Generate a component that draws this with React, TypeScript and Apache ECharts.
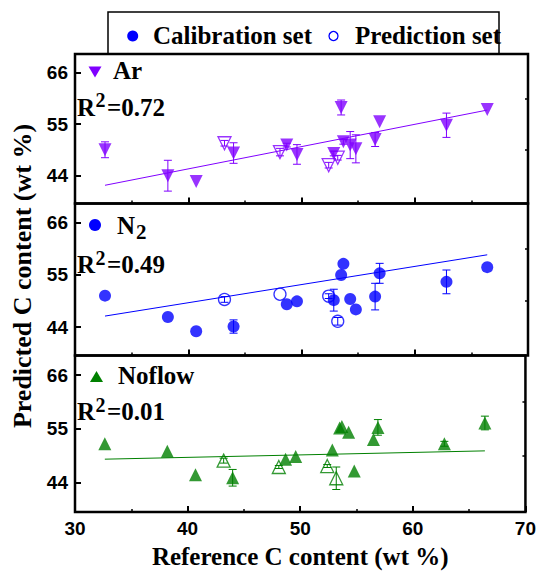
import React, { useEffect, useRef } from "react";
import * as echarts from "echarts";

// ---- data ----
const xCal = [32.65, 38.2, 40.7, 44.0, 48.7, 49.6, 52.85, 53.5, 53.7, 54.3, 54.8, 56.5, 56.9, 62.8, 66.4];
const xPred = [43.2, 48.1, 52.4, 53.2];

const arCal = [49.5, 43.95, 42.7, 48.8, 50.5, 48.5, 48.7, 58.55, 51.2, 50.5, 49.7, 51.7, 55.5, 54.75, 58.1];
const arCalErr = [1.7, 3.3, 0, 2.2, 0.4, 2.1, 0.5, 1.6, 0.5, 2.9, 3.0, 1.5, 0, 2.6, 0];
const arPred = [50.9, 49.0, 46.2, 47.8];
const arPredErr = [0.6, 0.8, 0.6, 0.5];

const n2Cal = [50.6, 46.1, 43.1, 44.1, 48.8, 49.4, 49.65, 54.95, 57.3, 49.9, 47.7, 50.4, 55.3, 53.5, 56.6];
const n2CalErr = [0, 0, 0, 1.4, 0, 0, 2.3, 0, 0, 0, 0, 2.8, 2.1, 2.5, 0];
const n2Pred = [49.8, 50.9, 50.5, 45.2];
const n2PredErr = [0.6, 0, 0.5, 0.8];

const nfCal = [51.95, 50.4, 45.6, 45.0, 48.8, 49.35, 50.7, 55.2, 55.5, 54.3, 46.4, 52.8, 55.3, 51.95, 56.2];
const nfCalErr = [0, 0, 0, 1.7, 0, 0, 0, 0, 0, 0, 0, 0, 1.6, 0.5, 1.4];
const nfPred = [48.5, 47.2, 47.4, 44.9];
const nfPredErr = [0.5, 0.3, 0.3, 2.3];

const fitX = [32.65, 66.4];
const arFit = [41.9, 58.0];
const n2Fit = [46.3, 59.2];
const nfFit = [48.8, 50.5];

const panelNames = ["Ar", "N", "Noflow"];
const r2Values = ["0.72", "0.49", "0.01"];
const yTickValues = [44, 55, 66];
const yMinorValues = [49.5, 60.5];
const xMin = 30, xMax = 70, xStep = 10;
const yMin = 38, yMax = 70;

const AR_C = "#8000ff";
const N2_C = "#0000ff";
const NF_C = "#008000";

const SERIF = "'Liberation Serif', 'Times New Roman', serif";
const SANS = "'Liberation Sans', Arial, sans-serif";

export default function App() {
  const ref = useRef<HTMLDivElement>(null);
  useEffect(() => {
    document.body.style.margin = "0";
    const chart = echarts.init(ref.current!, null, { renderer: "svg" });

    const grids = [
      { left: 75, right: 11, top: 54, height: 149.5 },
      { left: 75, right: 11, top: 203.5, height: 152 },
      { left: 75, right: 11, top: 355.5, height: 156.5 },
    ].map((g) => ({ ...g, show: true, borderColor: "#000", borderWidth: 2.5, backgroundColor: "transparent" }));

    const xAxes = [0, 1, 2].map((i) => ({
      type: "value",
      gridIndex: i,
      min: xMin,
      max: xMax,
      interval: xStep,
      axisLine: { show: false },
      axisTick: { show: true, inside: true, length: 6, lineStyle: { color: "#000", width: 2 } },
      minorTick: { show: true, splitNumber: 2, length: 3, lineStyle: { color: "#000", width: 1.5 } },
      splitLine: { show: false },
      axisLabel: {
        show: i === 2,
        color: "#000",
        fontFamily: SANS,
        fontWeight: "bold",
        fontSize: 19,
        margin: 7,
      },
      name: i === 2 ? "Reference C content (wt %)" : "",
      nameLocation: "middle",
      nameGap: 32,
      nameTextStyle: { color: "#000", fontFamily: SERIF, fontWeight: "bold", fontSize: 25 },
    }));

    const yAxes: any[] = [];
    [0, 1, 2].forEach((i) => {
      yAxes.push({
        type: "value",
        gridIndex: i,
        min: yMin,
        max: yMax,
        axisLine: { show: false },
        axisTick: { show: true, inside: true, length: 6, customValues: yTickValues, lineStyle: { color: "#000", width: 2 } },
        axisLabel: {
          show: true,
          customValues: yTickValues,
          color: "#000",
          fontFamily: SANS,
          fontWeight: "bold",
          fontSize: 19,
          margin: 7,
        },
        splitLine: { show: false },
      });
    });
    [0, 1, 2].forEach((i) => {
      yAxes.push({
        type: "value",
        gridIndex: i,
        min: yMin,
        max: yMax,
        axisLine: { show: false },
        axisTick: { show: true, inside: true, length: 3, customValues: yMinorValues, lineStyle: { color: "#000", width: 1.5 } },
        axisLabel: { show: false },
        splitLine: { show: false },
      });
    });

    const panels = [
      { color: AR_C, symbol: "triangle", rotate: 180, size: 13, cal: arCal, calErr: arCalErr, pred: arPred, predErr: arPredErr, fit: arFit },
      { color: N2_C, symbol: "circle", rotate: 0, size: 12, cal: n2Cal, calErr: n2CalErr, pred: n2Pred, predErr: n2PredErr, fit: n2Fit },
      { color: NF_C, symbol: "triangle", rotate: 0, size: 13, cal: nfCal, calErr: nfCalErr, pred: nfPred, predErr: nfPredErr, fit: nfFit },
    ];

    const errRender = (color: string) => (params: any, api: any) => {
      const x = api.value(0);
      const y = api.value(1);
      const e = api.value(2);
      if (!e) return { type: "group", children: [] };
      const top = api.coord([x, y + e]);
      const bot = api.coord([x, y - e]);
      const hw = 4;
      const st = { stroke: color, lineWidth: 1 };
      return {
        type: "group",
        children: [
          { type: "line", shape: { x1: top[0], y1: top[1], x2: bot[0], y2: bot[1] }, style: st },
          { type: "line", shape: { x1: top[0] - hw, y1: top[1], x2: top[0] + hw, y2: top[1] }, style: st },
          { type: "line", shape: { x1: bot[0] - hw, y1: bot[1], x2: bot[0] + hw, y2: bot[1] }, style: st },
        ],
      };
    };

    const series: any[] = [];
    panels.forEach((p, i) => {
      series.push({
        type: "line",
        xAxisIndex: i,
        yAxisIndex: i,
        data: fitX.map((x, k) => [x, p.fit[k]]),
        symbol: "none",
        lineStyle: { color: p.color, width: 1 },
        z: 1,
      });
      series.push({
        type: "custom",
        xAxisIndex: i,
        yAxisIndex: i,
        renderItem: errRender(p.color),
        data: xCal.map((x, k) => [x, p.cal[k], p.calErr[k]]),
        encode: { x: 0, y: 1 },
        z: 2,
      });
      series.push({
        type: "custom",
        xAxisIndex: i,
        yAxisIndex: i,
        renderItem: errRender(p.color),
        data: xPred.map((x, k) => [x, p.pred[k], p.predErr[k]]),
        encode: { x: 0, y: 1 },
        z: 2,
      });
      series.push({
        type: "scatter",
        xAxisIndex: i,
        yAxisIndex: i,
        symbol: p.symbol,
        symbolRotate: p.rotate,
        symbolSize: p.size,
        itemStyle: { color: p.color },
        data: xCal.map((x, k) => [x, p.cal[k]]),
        z: 3,
      });
      series.push({
        type: "scatter",
        xAxisIndex: i,
        yAxisIndex: i,
        symbol: p.symbol,
        symbolRotate: p.rotate,
        symbolSize: p.size,
        itemStyle: { color: "rgba(255,255,255,0)", borderColor: p.color, borderWidth: 1.3 },
        data: xPred.map((x, k) => [x, p.pred[k]]),
        z: 3,
      });
    });

    const txt = (text: string, x: number, y: number, size = 25, extra: any = {}) => ({
      type: "text",
      x,
      y,
      style: {
        text,
        fontFamily: SERIF,
        fontWeight: "bold",
        fontSize: size,
        fill: "#000",
        verticalAlign: "middle",
        align: "left",
        ...extra,
      },
      z: 10,
    });

    const panelTops = [54, 203.5, 355.5];
    const graphic: any[] = [
      // legend box
      { type: "rect", shape: { x: 108, y: 12, width: 391, height: 42 }, style: { fill: "none", stroke: "#000", lineWidth: 1.5 }, z: 5 },
      { type: "circle", shape: { cx: 132.7, cy: 36, r: 5.5 }, style: { fill: N2_C }, z: 10 },
      txt("Calibration set", 153, 35),
      { type: "circle", shape: { cx: 333.5, cy: 36, r: 4.5 }, style: { fill: "#fff", stroke: N2_C, lineWidth: 1.3 }, z: 10 },
      txt("Prediction set", 355, 35),
      // y axis title
      {
        type: "text",
        x: 22,
        y: 276,
        rotation: Math.PI / 2,
        style: {
          text: "Predicted C content (wt %)",
          fontFamily: SERIF,
          fontWeight: "bold",
          fontSize: 26,
          fill: "#000",
          align: "center",
          verticalAlign: "middle",
        },
        z: 10,
      },
      // panel 1: Ar
      { type: "polygon", shape: { points: [[88.5, 66.5], [101.5, 66.5], [95, 77.5]] }, style: { fill: AR_C }, z: 10 },
      txt(panelNames[0], 113, panelTops[0] + 16),
      // panel 2: N2
      { type: "circle", shape: { cx: 95, cy: 225, r: 6 }, style: { fill: N2_C }, z: 10 },
      txt(panelNames[1], 117, panelTops[1] + 22),
      txt("2", 136, panelTops[1] + 28, 21),
      // panel 3: Noflow
      { type: "polygon", shape: { points: [[90, 382], [103, 382], [96.5, 371]] }, style: { fill: NF_C }, z: 10 },
      txt(panelNames[2], 118, panelTops[2] + 20),
    ];
    const r2Offsets = [53, 61, 56];
    [0, 1, 2].forEach((i) => {
      const y = panelTops[i] + r2Offsets[i];
      graphic.push(txt("R", 77, y));
      graphic.push(txt("2", 95.5, y - 7, 20));
      graphic.push(txt("=" + r2Values[i], 107, y));
    });

    chart.setOption({
      animation: false,
      backgroundColor: "#fff",
      grid: grids,
      xAxis: xAxes,
      yAxis: yAxes,
      series,
      graphic,
    });
    return () => chart.dispose();
  }, []);
  return <div ref={ref} style={{ position: "fixed", left: 0, top: 0, width: 539, height: 571 }} />;
}
